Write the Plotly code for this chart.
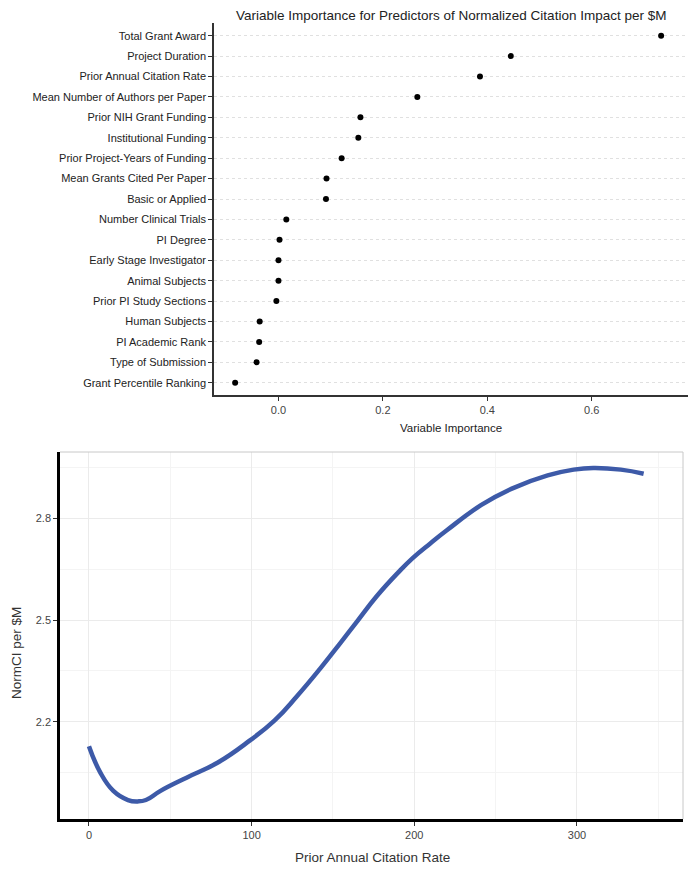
import plotly.graph_objects as go

W, H = 693, 872

# ---- Top chart data ----
predictors = [
    "Total Grant Award", "Project Duration", "Prior Annual Citation Rate",
    "Mean Number of Authors per Paper", "Prior NIH Grant Funding", "Institutional Funding",
    "Prior Project-Years of Funding", "Mean Grants Cited Per Paper", "Basic or Applied",
    "Number Clinical Trials", "PI Degree", "Early Stage Investigator", "Animal Subjects",
    "Prior PI Study Sections", "Human Subjects", "PI Academic Rank", "Type of Submission",
    "Grant Percentile Ranking",
]
importance = [0.733, 0.445, 0.386, 0.266, 0.157, 0.153, 0.121, 0.092, 0.091,
              0.015, 0.002, 0.000, 0.000, -0.004, -0.036, -0.037, -0.042, -0.083]
imp_ticks = [0.0, 0.2, 0.4, 0.6]

# ---- Bottom chart data ----
citation_rate = [0, 7, 15, 24, 30, 35, 44, 60, 79, 99, 114, 128, 142, 155, 165, 177,
                 190, 199, 210, 220, 241, 260, 282, 298, 310, 327, 341]
norm_ci = [2.128, 2.050, 1.996, 1.969, 1.965, 1.969, 1.996, 2.035, 2.079, 2.145, 2.203,
           2.276, 2.356, 2.435, 2.497, 2.571, 2.640, 2.683, 2.727, 2.765, 2.839, 2.888,
           2.927, 2.944, 2.949, 2.944, 2.932]
rate_ticks = [0, 100, 200, 300]
ci_ticks = [2.2, 2.5, 2.8]


def px_x(p):
    return p / W


def px_y(p):
    return 1 - p / H


narrow = "Liberation Sans Narrow, Arial Narrow, Liberation Sans, Arial, sans-serif"
regular = "Liberation Sans, Arial, sans-serif"

order = list(reversed(predictors))

fig = go.Figure()
fig.add_trace(go.Scatter(
    x=importance, y=predictors, mode="markers",
    marker=dict(color="black", size=6),
    xaxis="x", yaxis="y", showlegend=False, hoverinfo="x+y",
))
fig.add_trace(go.Scatter(
    x=citation_rate, y=norm_ci, mode="lines",
    line=dict(color="#3d5aa8", width=4.5, shape="spline", smoothing=1.3),
    xaxis="x2", yaxis="y2", showlegend=False,
))

fig.update_layout(
    width=W, height=H,
    margin=dict(l=0, r=0, t=0, b=0),
    paper_bgcolor="white", plot_bgcolor="white",
    xaxis=dict(
        domain=[px_x(214), px_x(688)], anchor="y",
        range=[-0.1235, 0.7845], tickvals=imp_ticks, ticktext=["0.0", "0.2", "0.4", "0.6"],
        showgrid=False, zeroline=False,
        showline=True, linecolor="#333", linewidth=1.5,
        ticks="outside", ticklen=4, tickcolor="#333", tickwidth=1,
        tickfont=dict(family=narrow, size=11, color="#444"),
    ),
    yaxis=dict(
        domain=[px_y(395), px_y(23)], anchor="x",
        type="category", categoryorder="array", categoryarray=order,
        range=[-0.6, 17.62],
        showgrid=True, gridcolor="#e0e0e0", griddash="dot", gridwidth=1,
        zeroline=False,
        showline=True, linecolor="#333", linewidth=1.5,
        ticks="outside", ticklen=4, tickcolor="#333", tickwidth=1,
        tickfont=dict(family=narrow, size=11, color="#222"),
    ),
    xaxis2=dict(
        domain=[px_x(60), px_x(683)], anchor="y2",
        range=[-17.8, 365.2], tickvals=rate_ticks,
        showgrid=True, gridcolor="#ebebeb", gridwidth=1,
        minor=dict(dtick=50, showgrid=True, gridcolor="#f4f4f4", gridwidth=1),
        zeroline=False,
        showline=True, linecolor="black", linewidth=2.5, mirror=False,
        ticks="outside", ticklen=4, tickcolor="#333", tickwidth=1,
        tickfont=dict(family=regular, size=11, color="#444"),
    ),
    yaxis2=dict(
        domain=[px_y(819), px_y(452)], anchor="x2",
        range=[1.913, 2.996], tickvals=ci_ticks, ticktext=["2.2", "2.5", "2.8"],
        showgrid=True, gridcolor="#ebebeb", gridwidth=1,
        minor=dict(dtick=0.15, tick0=2.05, showgrid=True, gridcolor="#f4f4f4", gridwidth=1),
        zeroline=False,
        showline=True, linecolor="black", linewidth=2.5,
        ticks="outside", ticklen=4, tickcolor="#333", tickwidth=1,
        tickfont=dict(family=regular, size=11, color="#444"),
    ),
    shapes=[
        dict(type="line", xref="paper", yref="paper", x0=px_x(60), x1=px_x(683),
             y0=px_y(452), y1=px_y(452), line=dict(color="#c8c8c8", width=1)),
        dict(type="line", xref="paper", yref="paper", x0=px_x(683), x1=px_x(683),
             y0=px_y(452), y1=px_y(819), line=dict(color="#c8c8c8", width=1)),
    ],
    annotations=[
        dict(text="Variable Importance for Predictors of Normalized Citation Impact per $M",
             xref="paper", yref="paper", x=px_x(451), y=px_y(15), showarrow=False,
             xanchor="center", yanchor="middle",
             font=dict(family=narrow, size=13.5, color="#222")),
        dict(text="Variable Importance", xref="paper", yref="paper",
             x=px_x(451), y=px_y(428), showarrow=False, xanchor="center", yanchor="middle",
             font=dict(family=narrow, size=11.5, color="#222")),
        dict(text="Prior Annual Citation Rate", xref="paper", yref="paper",
             x=px_x(373), y=px_y(857), showarrow=False, xanchor="center", yanchor="middle",
             font=dict(family=regular, size=13.5, color="#333")),
        dict(text="NormCI per $M", xref="paper", yref="paper", textangle=-90,
             x=px_x(16), y=px_y(653), showarrow=False, xanchor="center", yanchor="middle",
             font=dict(family=regular, size=13.5, color="#333")),
    ],
)

fig.write_html("out.html", config={"displayModeBar": False},
               post_script="document.body.style.margin='0px';")
